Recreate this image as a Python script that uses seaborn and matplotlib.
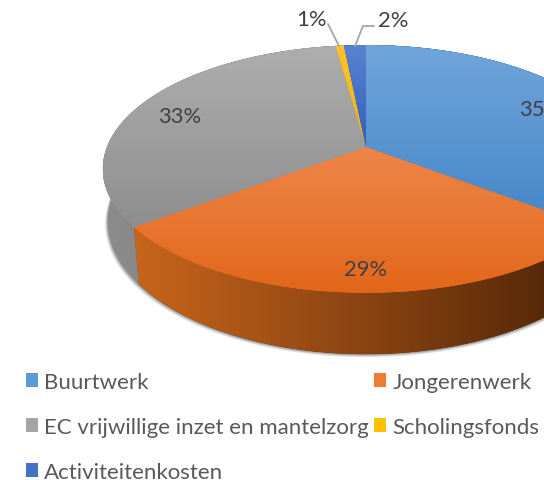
import numpy as np
import seaborn as sns
import matplotlib.pyplot as plt
from matplotlib.patches import Patch, Polygon

# data
categories = ['Buurtwerk', 'Jongerenwerk', 'EC vrijwillige inzet en mantelzorg',
              'Scholingsfonds', 'Activiteitenkosten']
shares = [35.4, 29.4, 33.0, 0.6, 1.6]

top_light = ['#70a5da', '#ee8649', '#aeaeae', '#ffc42c', '#5a82cf']
top_dark = ['#4485c8', '#e2661a', '#8e8e8e', '#f0b010', '#2f60bd']
side_light = ['#2f5f8f', '#c8651c', '#8c8c8c', '#b08a10', '#2a4f90']
side_dark = ['#1d3d5e', '#4a2206', '#767676', '#806508', '#1c3a6c']
legend_colors = ['#5b9bd5', '#ed7d31', '#a5a5a5', '#ffc000', '#4472c4']

sns.set_theme(style='white')
plt.rcParams['font.family'] = ['Lato', 'DejaVu Sans']

# perspective of the disc, in pixels
cx, cy = 366, 148
rx, ry = 259, 120
tilt = 0.177
depth = 50.5


def project(theta, drop=0.0):
    u, v = np.sin(theta), np.cos(theta)
    w = 1 + tilt * v
    shrink = 1 - 0.02 * (drop > 0)
    return cx + shrink * rx * u / w, cy - (ry * v - drop) / w


def gradient(ax, poly, light, dark, vertical, zorder):
    patch = Polygon(poly, closed=True, fc=dark, ec='none', zorder=zorder)
    ax.add_patch(patch)
    ramp = np.linspace(0, 1, 256)
    ramp = ramp[:, None] if vertical else ramp[None, :]
    x0, y0 = poly.min(axis=0)
    x1, y1 = poly.max(axis=0)
    cmap = sns.blend_palette([light, dark], as_cmap=True)
    im = ax.imshow(ramp, cmap=cmap, extent=(x0, x1, y1, y0), origin='upper',
                   aspect='auto', zorder=zorder + 0.1, interpolation='bilinear')
    im.set_clip_path(patch)


fig = plt.figure(figsize=(5.44, 4.81), dpi=100)
ax = fig.add_axes([0, 0, 1, 1])

edges = 2 * np.pi * np.cumsum([0] + shares) / sum(shares)

# soft shadow under the body
full = np.linspace(0, 2 * np.pi, 300)
sx, sy = project(full, depth)
for grow, alpha in [(3.0, 0.14), (2.0, 0.20), (1.0, 0.28)]:
    ax.add_patch(Polygon(np.column_stack([cx + (sx - cx) * (1 + grow / 260), sy + grow]),
                         closed=True, fc='#404040', ec='none', alpha=alpha, zorder=1))

# side walls, then top faces
for i in [2, 3, 4, 0, 1]:
    t = np.linspace(edges[i], edges[i + 1], 120)
    top = np.column_stack(project(t))
    low = np.column_stack(project(t, depth))
    gradient(ax, np.vstack([top, low[::-1]]), side_light[i], side_dark[i], False, 2 + i * 0.2)

for i in range(len(shares)):
    t = np.linspace(edges[i], edges[i + 1], 120)
    poly = np.vstack([[cx, cy], np.column_stack(project(t))])
    gradient(ax, poly, top_light[i], top_dark[i], True, 5 + i * 0.2)

# value labels
labels = [f'{s:.0f}%' for s in shares]
label_pos = [(541, 110), (366, 270), (180, 117), (311, 20), (393, 21)]
for lab, (x, y) in zip(labels, label_pos):
    ax.text(x, y, lab, ha='center', va='center', fontsize=15.8, color='#404040', zorder=10)

# leader lines
ax.plot([328, 339], [25, 47], color='#a6a6a6', lw=1.3, zorder=9)
ax.plot([374, 363, 355], [27, 27, 47], color='#a6a6a6', lw=1.3, zorder=9)

ax.set_xlim(0, 544)
ax.set_ylim(481, 0)
ax.axis('off')

# legend fills columns first
order = [0, 2, 4, 1, 3]
handles = [Patch(fc=legend_colors[i], ec='none', label=categories[i]) for i in order]
ax.legend(handles=handles, ncol=2, loc='upper left', bbox_to_anchor=(26 / 544, 1 - 373 / 481),
          frameon=False, fontsize=16, labelcolor='#595959', borderpad=0, borderaxespad=0,
          handlelength=0.55, handleheight=0.55, handletextpad=0.27, labelspacing=1.12,
          columnspacing=0.23)

fig.savefig('out.png', dpi=100)
